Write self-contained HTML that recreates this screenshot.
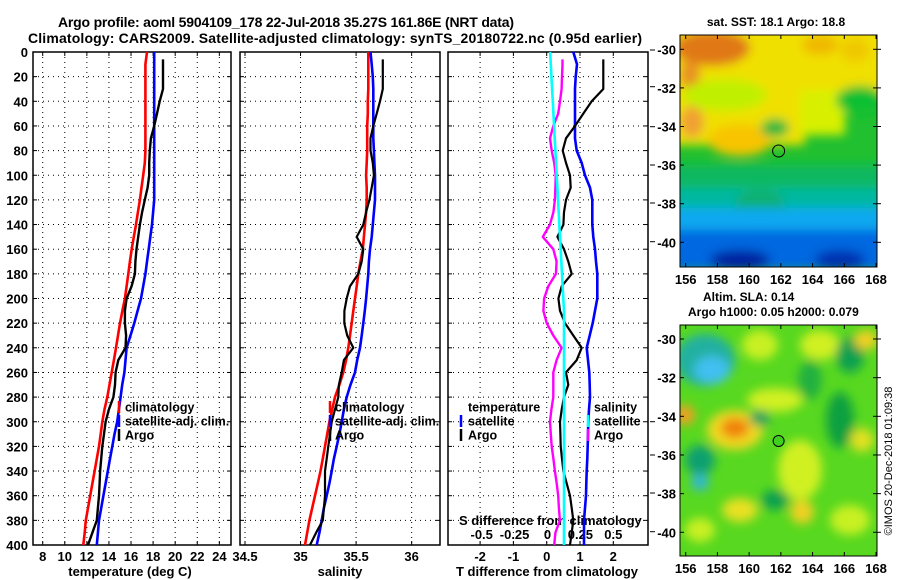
<!DOCTYPE html>
<html><head><meta charset="utf-8"><style>
html,body{margin:0;padding:0;background:#fff}
svg{display:block;font-family:"Liberation Sans",Arial,sans-serif;font-weight:bold}
</style></head><body>
<svg id="c" width="900" height="580" viewBox="0 0 900 580">
<defs>
<filter id="bl" x="-50%" y="-50%" width="200%" height="200%"><feGaussianBlur stdDeviation="5"/></filter>
<clipPath id="cm1"><rect x="680" y="35" width="197" height="232"/></clipPath>
<clipPath id="cm2"><rect x="680" y="325" width="197" height="231"/></clipPath>
</defs>
<text x="286" y="27" text-anchor="middle" font-size="14" textLength="456">Argo profile: aoml 5904109_178 22-Jul-2018 35.27S 161.86E (NRT data)</text>
<text x="335" y="43" text-anchor="middle" font-size="14" textLength="614">Climatology: CARS2009. Satellite-adjusted climatology: synTS_20180722.nc (0.95d earlier)</text>

<g>
<g clip-path="url(#cm1)">
<rect x="680" y="35" width="197" height="232" fill="#20c030"/>
<g filter="url(#bl)">
<rect x="670" y="25" width="135" height="120" fill="#f0e000"/>
<rect x="800" y="25" width="90" height="70" fill="#f0e000"/>
<rect x="800" y="90" width="45" height="45" fill="#d8f000"/>
<ellipse cx="712" cy="48" rx="38" ry="18" fill="#e07818"/>
<ellipse cx="690" cy="75" rx="10" ry="15" fill="#e89020"/>
<ellipse cx="820" cy="45" rx="18" ry="10" fill="#f0b800"/>
<ellipse cx="855" cy="50" rx="15" ry="12" fill="#f0c800"/>
<ellipse cx="725" cy="95" rx="42" ry="16" fill="#c0f000"/>
<ellipse cx="740" cy="140" rx="32" ry="16" fill="#f8c400"/>
<ellipse cx="692" cy="122" rx="12" ry="16" fill="#f0a030"/>
<ellipse cx="775" cy="128" rx="14" ry="9" fill="#20b840"/>
<ellipse cx="860" cy="100" rx="24" ry="14" fill="#10c030"/>
<rect x="670" y="165" width="220" height="25" fill="#10b860"/>
<rect x="670" y="188" width="220" height="22" fill="#00b8a0"/>
<ellipse cx="760" cy="205" rx="25" ry="15" fill="#10b070"/>
<rect x="670" y="208" width="220" height="25" fill="#10a8f0"/>
<rect x="670" y="230" width="220" height="40" fill="#0068e0"/>
<ellipse cx="740" cy="260" rx="30" ry="10" fill="#0020a0"/>
<ellipse cx="840" cy="260" rx="25" ry="10" fill="#0030b0"/>
</g>
</g>
<rect x="680" y="35" width="197" height="232" fill="none" stroke="#000"/>
<circle cx="778.6" cy="151" r="6" fill="none" stroke="#000"/>
<text x="776" y="26" text-anchor="middle" font-size="12">sat. SST: 18.1 Argo: 18.8</text>
</g>

<g>
<g clip-path="url(#cm2)">
<rect x="680" y="325" width="197" height="231" fill="#58d820"/>
<g filter="url(#bl)">
<ellipse cx="705" cy="360" rx="30" ry="26" fill="#20b0a0"/>
<ellipse cx="712" cy="370" rx="18" ry="14" fill="#40c0f0"/>
<ellipse cx="760" cy="345" rx="18" ry="15" fill="#c8f020"/>
<ellipse cx="735" cy="430" rx="28" ry="20" fill="#f0d820"/>
<ellipse cx="735" cy="428" rx="14" ry="10" fill="#f08010"/>
<ellipse cx="685" cy="415" rx="10" ry="10" fill="#f0a020"/>
<ellipse cx="775" cy="400" rx="28" ry="12" fill="#d0f020"/>
<ellipse cx="760" cy="418" rx="10" ry="8" fill="#10a060"/>
<ellipse cx="820" cy="345" rx="20" ry="15" fill="#d0f020"/>
<ellipse cx="850" cy="355" rx="14" ry="18" fill="#10a050"/>
<ellipse cx="866" cy="340" rx="12" ry="10" fill="#f0d020"/>
<ellipse cx="700" cy="460" rx="15" ry="15" fill="#10a070"/>
<ellipse cx="700" cy="482" rx="9" ry="9" fill="#30b8d0"/>
<ellipse cx="800" cy="470" rx="22" ry="30" fill="#d0f020"/>
<ellipse cx="802" cy="512" rx="12" ry="12" fill="#f0d020"/>
<ellipse cx="740" cy="510" rx="18" ry="12" fill="#e8e020"/>
<ellipse cx="840" cy="420" rx="14" ry="28" fill="#10a040"/>
<ellipse cx="862" cy="440" rx="12" ry="12" fill="#e0e020"/>
<ellipse cx="775" cy="500" rx="14" ry="10" fill="#10a050"/>
<ellipse cx="850" cy="520" rx="20" ry="15" fill="#c8f020"/>
<ellipse cx="810" cy="380" rx="12" ry="20" fill="#20b040"/>
<ellipse cx="700" cy="530" rx="15" ry="12" fill="#c8f020"/>
</g>
</g>
<rect x="680" y="325" width="197" height="231" fill="none" stroke="#000"/>
<circle cx="778.6" cy="441" r="5.5" fill="#40d020" stroke="#000"/>
<text x="703" y="301" font-size="12">Altim. SLA: 0.14</text>
<text x="688" y="316" font-size="12">Argo h1000: 0.05 h2000: 0.079</text>
<text transform="translate(892,461) rotate(-90)" text-anchor="middle" font-size="11" font-weight="normal">©IMOS 20-Dec-2018 01:09:38</text>
</g>
<g id="dyn"></g>
</svg>
<script>
const NS="http://www.w3.org/2000/svg";
const depths=[0,10,20,30,40,50,60,70,80,90,100,110,120,130,140,150,160,170,180,190,200,210,220,230,240,250,260,270,280,290,300,310,320,330,340,350,360,370,380,390,400];
const argoDepths=[6,10,20,30,40,50,60,70,80,90,100,110,120,130,140,150,160,170,180,190,200,210,220,230,240,250,260,270,280,290,300,310,320,330,340,350,360,370,380,390,400];
const climT=[17.45,17.3,17.3,17.3,17.3,17.3,17.3,17.3,17.3,17.25,17.1,16.95,16.8,16.62,16.45,16.25,16.06,15.9,15.75,15.6,15.45,15.22,15.0,14.82,14.64,14.45,14.25,14.05,13.85,13.6,13.4,13.25,13.1,12.9,12.7,12.5,12.3,12.1,11.9,11.8,11.68];
const satT=[18.1,18.1,18.1,18.1,18.1,18.1,18.1,18.1,18.1,18.1,18.1,18.1,18.1,18.0,17.9,17.75,17.6,17.45,17.3,17.1,16.9,16.6,16.3,15.95,15.6,15.5,15.4,15.2,15.06,14.9,14.75,14.5,14.3,14.1,13.9,13.7,13.5,13.3,13.1,13.0,12.9];
const argoT=[18.9,18.9,18.9,18.9,18.6,18.35,18.1,17.8,17.7,17.65,17.65,17.5,17.25,17.0,16.8,16.65,16.5,16.4,16.35,16.05,15.6,15.45,15.45,15.55,15.5,14.85,14.6,14.55,14.4,14.0,13.7,13.55,13.4,13.3,13.2,13.15,13.1,13.0,12.9,12.5,12.1];
const climS=[35.61,35.61,35.61,35.61,35.605,35.605,35.6,35.6,35.6,35.595,35.59,35.595,35.595,35.59,35.58,35.57,35.56,35.54,35.52,35.505,35.49,35.475,35.46,35.445,35.43,35.41,35.385,35.35,35.31,35.285,35.26,35.24,35.22,35.2,35.18,35.155,35.13,35.105,35.08,35.06,35.04];
const satS=[35.63,35.64,35.65,35.655,35.655,35.655,35.655,35.655,35.66,35.665,35.67,35.67,35.67,35.66,35.65,35.64,35.625,35.615,35.61,35.6,35.59,35.578,35.565,35.55,35.535,35.51,35.49,35.45,35.415,35.39,35.37,35.35,35.325,35.3,35.28,35.26,35.235,35.21,35.19,35.17,35.145];
const argoS=[35.74,35.74,35.74,35.74,35.715,35.685,35.655,35.63,35.63,35.65,35.66,35.64,35.62,35.59,35.565,35.505,35.565,35.55,35.52,35.445,35.415,35.395,35.394,35.42,35.475,35.39,35.37,35.345,35.34,35.31,35.28,35.265,35.25,35.235,35.22,35.22,35.22,35.21,35.2,35.14,35.085];
const satDT=[0.8,0.91,0.87,0.85,0.85,0.85,0.85,0.85,0.9,1.05,1.15,1.3,1.37,1.37,1.37,1.4,1.45,1.48,1.52,1.52,1.52,1.45,1.38,1.29,1.2,1.24,1.28,1.29,1.3,1.27,1.25,1.24,1.23,1.22,1.2,1.19,1.18,1.15,1.12,1.12,1.12];
const satDS=[0.02,0.025,0.03,0.035,0.04,0.045,0.05,0.055,0.06,0.065,0.07,0.075,0.08,0.085,0.09,0.095,0.1,0.105,0.11,0.115,0.12,0.125,0.125,0.125,0.125,0.125,0.125,0.125,0.125,0.125,0.125,0.125,0.125,0.125,0.125,0.125,0.125,0.125,0.125,0.125,0.125];
const argoDT=[1.7,1.7,1.7,1.7,1.35,1.1,0.85,0.58,0.48,0.58,0.7,0.72,0.58,0.52,0.5,0.32,0.52,0.65,0.75,0.45,0.35,0.4,0.55,0.8,1.05,0.9,0.58,0.65,0.52,0.45,0.4,0.41,0.42,0.46,0.5,0.6,0.7,0.75,0.8,0.75,0.7];
const argoDS=[0.114,0.114,0.11,0.107,0.095,0.081,0.044,0.019,0.032,0.051,0.062,0.06,0.056,0.045,0.019,-0.036,0.044,0.069,0.064,0.006,-0.026,-0.031,-0.006,0.044,0.107,0.069,0.044,0.044,0.044,0.03,0.019,0.025,0.032,0.045,0.056,0.07,0.081,0.087,0.094,0.06,0.051];
const depthTicks=[0,20,40,60,80,100,120,140,160,180,200,220,240,260,280,300,320,340,360,380,400];
const tempTicks=[8,10,12,14,16,18,20,22,24];
const salTicks=[34.5,35,35.5,36];
const dTTicks=[-2,-1,0,1,2];
const dSTicks=[-0.5,-0.25,0,0.25,0.5];
const latTicks=[-30,-32,-34,-36,-38,-40];
const lonTicks=[156,158,160,162,164,166,168];

const Y0=52,Y1=545;
const yD=d=>Y0+d*(Y1-Y0)/400;
const xT=t=>42.7+(t-8)*11.04;
const xS=s=>245+(s-34.5)*111.1;
const xDT=v=>546.7+v*33.3;
const xDS=v=>547.5+v*131.6;
const g=document.getElementById('dyn');
function mk(tag,at,parent){const e=document.createElementNS(NS,tag);for(const k in at)e.setAttribute(k,at[k]);(parent||g).appendChild(e);return e;}
function txt(x,y,s,size,anchor){const e=mk('text',{x:x,y:y,'font-size':size,'text-anchor':anchor||'start'});e.textContent=s;return e;}

const panels=[{x0:33,x1:231,name:'temperature-panel'},{x0:240,x1:440,name:'salinity-panel'},{x0:448,x1:648,name:'difference-panel'}];
const vgrid=[tempTicks.map(xT),salTicks.map(xS),dTTicks.map(xDT)];
panels.forEach((p,i)=>{
  const pg=mk('g',{});
  
  
  depthTicks.forEach(d=>{
    const y=yD(d);
    if(d>0&&d<400){const l=mk('line',{x1:p.x0,x2:p.x1,y1:y,y2:y,stroke:'#000','stroke-width':1,'stroke-dasharray':'1,4'},pg);
    
    }
    mk('line',{x1:p.x0,x2:p.x0+4,y1:y,y2:y,stroke:'#000'},pg);
    mk('line',{x1:p.x1-4,x2:p.x1,y1:y,y2:y,stroke:'#000'},pg);
  });
  vgrid[i].forEach(x=>{
    const l=mk('line',{x1:x,x2:x,y1:Y0,y2:Y1,stroke:'#000','stroke-dasharray':'1,4'},pg);
    
    
    mk('line',{x1:x,x2:x,y1:Y1-4,y2:Y1,stroke:'#000'},pg);
    mk('line',{x1:x,x2:x,y1:Y0,y2:Y0+4,stroke:'#000'},pg);
  });
  const r=mk('rect',{x:p.x0,y:Y0,width:p.x1-p.x0,height:Y1-Y0,fill:'none',stroke:'#000','stroke-width':1.5},pg);
  
  
});
depthTicks.forEach(d=>{const t=txt(28,yD(d)+5,String(d),13,'end');

});
tempTicks.forEach(v=>{const t=txt(xT(v),561,String(v),13,'middle');

});
salTicks.forEach(v=>{const t=txt(xS(v),561,String(v),13,'middle');

});
dTTicks.forEach(v=>{const t=txt(xDT(v),561,String(v),13,'middle');

});
dSTicks.forEach(v=>{const t=txt(xDS(v),539,String(v),13,'middle');

});
[[130,'temperature (deg C)'],[340,'salinity'],[547,'T difference from climatology']].forEach(a=>{const t=txt(a[0],576,a[1],13,'middle');

});
{const t=txt(459,525,'S difference from climatology',13,'start');

}
[50,86.7,126.7,165,203,241.7,421.7,455,493,531.7].forEach(y=>mk('line',{x1:650,x2:655,y1:y,y2:y,stroke:'#000'}));

function series(xs,ds,fx,color,w,name){
  const pts=xs.map((v,i)=>fx(v).toFixed(1)+','+yD(ds[i]).toFixed(1)).join(' ');
  const l=mk('polyline',{points:pts,fill:'none',stroke:color,'stroke-width':w,'stroke-linejoin':'round'});
  
  
}
series(climT,depths,xT,'#ff0000',2.6,'climatology-temperature-line');
series(satT,depths,xT,'#0000ff',2.6,'satellite-temperature-line');
series(argoT,argoDepths,xT,'#000',2.4,'argo-temperature-line');
series(climS,depths,xS,'#ff0000',2.6,'climatology-salinity-line');
series(satS,depths,xS,'#0000ff',2.6,'satellite-salinity-line');
series(argoS,argoDepths,xS,'#000',2.2,'argo-salinity-line');
series(satDT,depths,xDT,'#0000ff',2.6,'satellite-t-diff-line');
series(argoDT,argoDepths,xDT,'#000',2.2,'argo-t-diff-line');
series(argoDS,argoDepths,xDS,'#ff00ff',2.4,'argo-s-diff-line');
series(satDS,depths,xDS,'#00ffff',2.6,'satellite-s-diff-line');

function legend(x,mx,items){
  items.forEach((it,i)=>{
    const y=407+i*14;
    if(it[1]){const m=mk('line',{x1:mx,x2:mx,y1:y-6,y2:y+6,stroke:it[1],'stroke-width':2.5});
    
    }
    const t=txt(x,y+4.5,it[0],12.5,'start');
    
    
  });
}
legend(125,119,[['climatology','#ff0000'],['satellite-adj. clim.','#0000ff'],['Argo','#000']]);
legend(335,330,[['climatology','#ff0000'],['satellite-adj. clim.','#0000ff'],['Argo','#000']]);
legend(468,461,[['temperature',null],['satellite','#0000ff'],['Argo','#000']]);
legend(594,588,[['salinity',null],['satellite','#00ffff'],['Argo','#ff00ff']]);

function mapAxes(yTop,yBot,lat30,lat40,labY){
  const yl=l=>lat30+(l+30)/(-10)*(lat40-lat30);
  const xl=l=>685.7+(l-156)*15.86;
  latTicks.forEach(l=>{const y=yl(l);
    mk('line',{x1:680,x2:684,y1:y,y2:y,stroke:'#000'});
    mk('line',{x1:873,x2:877,y1:y,y2:y,stroke:'#000'});
    mk('line',{x1:877,x2:881,y1:y,y2:y,stroke:'#000'});
    const t=txt(676,y+5,String(l),13,'end');
    
    });
  lonTicks.forEach(l=>{const x=xl(l);
    mk('line',{x1:x,x2:x,y1:yTop,y2:yTop+4,stroke:'#000'});
    mk('line',{x1:x,x2:x,y1:yBot-4,y2:yBot,stroke:'#000'});
    const t=txt(x,labY,String(l),13,'middle');
    
    });
}
mapAxes(35,267,49.3,242.3,284);
mapAxes(325,556,339,532.3,573);
</script>
</body></html>
